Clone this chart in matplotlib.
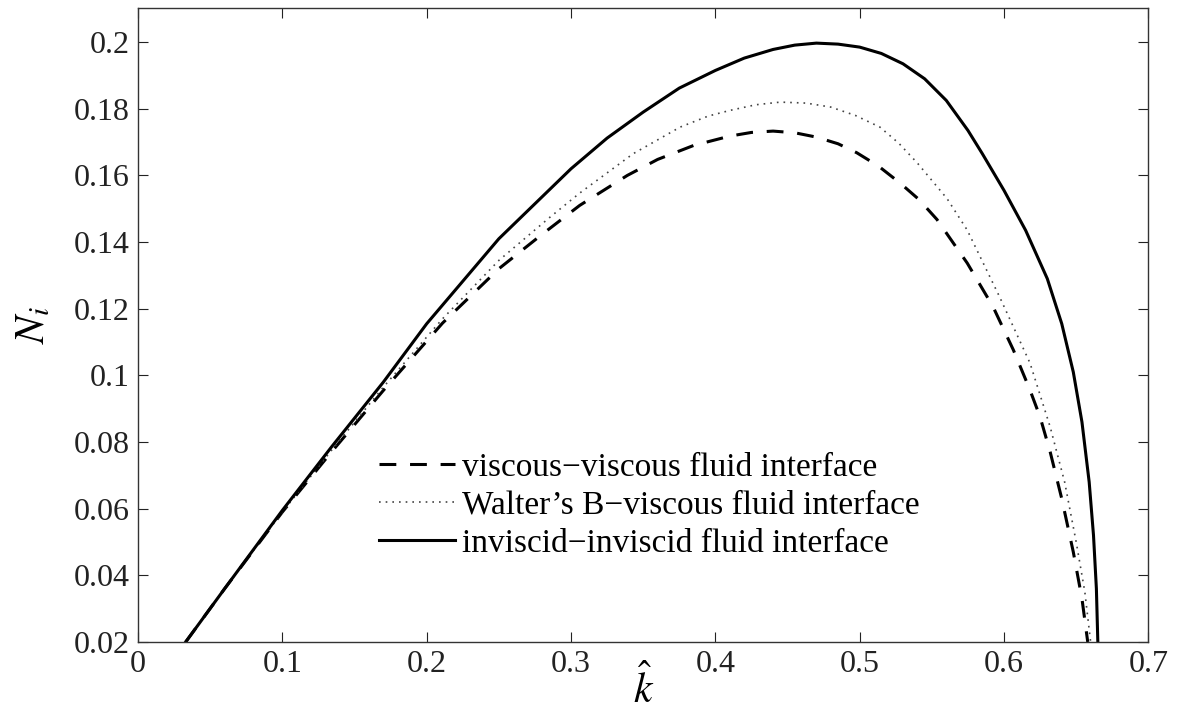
import numpy as np
import matplotlib
matplotlib.use("Agg")
import matplotlib.pyplot as plt

plt.rcParams["font.family"] = ["Liberation Serif", "DejaVu Serif"]
plt.rcParams["mathtext.fontset"] = "stix"

# inviscid-inviscid (solid)
K_INV = [0.033, 0.06, 0.10, 0.134, 0.17, 0.20, 0.25, 0.30, 0.325, 0.35, 0.375,
         0.40, 0.42, 0.44, 0.455, 0.47, 0.485, 0.50, 0.515, 0.53, 0.545, 0.56,
         0.575, 0.585, 0.60, 0.615, 0.63, 0.64, 0.648, 0.654, 0.659, 0.662,
         0.664, 0.665]
N_INV = [0.02, 0.036, 0.0595, 0.0785, 0.098, 0.1155, 0.141, 0.162, 0.1712,
         0.179, 0.1862, 0.1915, 0.1952, 0.1978, 0.1991, 0.1997, 0.1994, 0.1985,
         0.1966, 0.1935, 0.189, 0.1825, 0.1735, 0.1665, 0.1555, 0.1435, 0.129,
         0.1155, 0.101, 0.086, 0.068, 0.052, 0.036, 0.02]

# viscous-viscous (dashed)
K_VIS = [0.033, 0.06, 0.10, 0.134, 0.17, 0.211, 0.25, 0.279, 0.306, 0.339,
         0.36, 0.385, 0.41, 0.425, 0.44, 0.455, 0.47, 0.485, 0.498, 0.513,
         0.528, 0.541, 0.5535, 0.5745, 0.5925, 0.6065, 0.618, 0.625, 0.632,
         0.640, 0.648, 0.654, 0.658]
N_VIS = [0.02, 0.036, 0.059, 0.077, 0.0955, 0.1157, 0.132, 0.142, 0.151, 0.160,
         0.1648, 0.169, 0.1718, 0.1729, 0.1733, 0.1728, 0.1715, 0.1695, 0.1668,
         0.1628, 0.1577, 0.1528, 0.1468, 0.1337, 0.1205, 0.1076, 0.0956,
         0.0875, 0.077, 0.063, 0.047, 0.033, 0.02]

# Walter's B-viscous (dotted)
K_WB = [0.033, 0.06, 0.10, 0.134, 0.17, 0.211, 0.25, 0.2855, 0.306, 0.343,
        0.3756, 0.395, 0.41, 0.428, 0.445, 0.463, 0.48, 0.497, 0.514, 0.527,
        0.540, 0.5606, 0.5745, 0.597, 0.618, 0.632, 0.642, 0.650, 0.656, 0.660]
N_WB = [0.02, 0.036, 0.059, 0.0775, 0.0965, 0.117, 0.1345, 0.1475, 0.1547,
        0.1665, 0.1745, 0.1778, 0.1795, 0.1812, 0.182, 0.1817, 0.1805, 0.178,
        0.1745, 0.1697, 0.1637, 0.153, 0.1436, 0.1235, 0.1037, 0.0845, 0.068,
        0.050, 0.035, 0.02]

LABELS = ["viscous\u2212viscous fluid interface",
          "Walter\u2019s B\u2212viscous fluid interface",
          "inviscid\u2212inviscid fluid interface"]

X_TICKS = [0, 0.1, 0.2, 0.3, 0.4, 0.5, 0.6, 0.7]
X_TICKLABELS = ["0", "0.1", "0.2", "0.3", "0.4", "0.5", "0.6", "0.7"]
Y_TICKS = [0.02, 0.04, 0.06, 0.08, 0.1, 0.12, 0.14, 0.16, 0.18, 0.2]
Y_TICKLABELS = ["0.02", "0.04", "0.06", "0.08", "0.1", "0.12", "0.14",
                "0.16", "0.18", "0.2"]

fig = plt.figure(figsize=(11.9, 7.13), dpi=100)
ax = fig.add_axes([0.116, 0.0996, 0.849, 0.889])

ax.plot(K_VIS, N_VIS, color="black", linewidth=2.2, linestyle=(0, (5.5, 4.5)),
        label=LABELS[0])
ax.plot(K_WB, N_WB, color="#444444", linewidth=1.2, linestyle=(0, (1, 3)),
        label=LABELS[1])
ax.plot(K_INV, N_INV, color="black", linewidth=2.2, label=LABELS[2])

ax.set_xlim(0, 0.7)
ax.set_ylim(0.02, 0.2102)
ax.set_xticks(X_TICKS)
ax.set_xticklabels(X_TICKLABELS)
ax.set_yticks(Y_TICKS)
ax.set_yticklabels(Y_TICKLABELS)
ax.tick_params(direction="in", length=7, width=0.8, top=True, right=True,
               labelsize=23, colors="#222222", pad=6)
for sp in ax.spines.values():
    sp.set_color("#333333")
    sp.set_linewidth(1.0)

ax.set_xlabel(r"$\hat{k}$", fontsize=30, labelpad=-10)
ax.set_ylabel(r"$N_i$", fontsize=30, labelpad=15)

leg = ax.legend(loc="upper left", bbox_to_anchor=(0.225, 0.32), frameon=False,
                fontsize=24, handlelength=2.3, handletextpad=0.2,
                labelspacing=0.22, borderaxespad=0)

fig.savefig("out.png", dpi=100)
